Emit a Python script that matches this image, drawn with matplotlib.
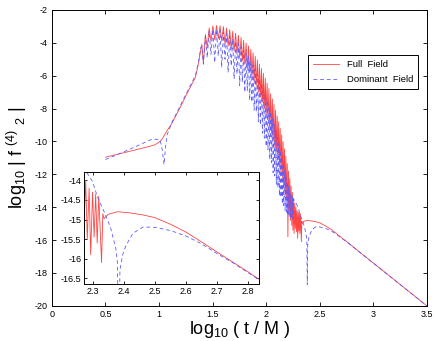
import numpy as np
import matplotlib
matplotlib.use('Agg')
import matplotlib.pyplot as plt

plt.rcParams['font.family'] = ['Liberation Sans', 'DejaVu Sans']
plt.rcParams['mathtext.fontset'] = 'custom'
plt.rcParams['mathtext.rm'] = 'Liberation Sans'
plt.rcParams['mathtext.it'] = 'Liberation Sans'
plt.rcParams['axes.unicode_minus'] = False

# ---- data (log10 t/M , log10 |f|) ----
# early (pre-ringing) part
red_early_x = [0.5, 0.6, 0.7, 0.8, 0.9, 0.96, 1.0, 1.03, 1.07, 1.12, 1.2, 1.26, 1.3, 1.34, 1.37, 1.39]
red_early_y = [-10.96, -10.8, -10.64, -10.48, -10.32, -10.21, -10.05, -9.85, -9.4, -8.9, -7.9, -7.1, -6.6, -6.1, -5.2, -4.4]

blue_early_x = [0.5, 0.6, 0.7, 0.8, 0.9, 0.94, 1.01, 1.03, 1.047, 1.06, 1.075, 1.12, 1.2, 1.26, 1.3, 1.34, 1.37, 1.39]
blue_early_y = [-11.1, -10.83, -10.55, -10.26, -9.97, -9.85, -9.9, -10.5, -11.4, -10.4, -9.6, -8.85, -7.8, -7.0, -6.5, -6.0, -5.1, -4.3]

# ringing: positions of local maxima and minima
osc_x = [1.400, 1.433, 1.468, 1.503, 1.537, 1.570, 1.601, 1.631, 1.660, 1.688,
         1.715, 1.741, 1.766, 1.790, 1.813, 1.835, 1.857, 1.878, 1.898, 1.918,
         1.937, 1.956, 1.974, 1.992, 2.009, 2.026, 2.042, 2.058, 2.073, 2.088,
         2.103, 2.117, 2.131, 2.145, 2.158, 2.171, 2.184, 2.197, 2.209, 2.221,
         2.233, 2.245, 2.256, 2.267, 2.278, 2.289, 2.300, 2.310, 2.320]
osc_mid = [1.414, 1.450, 1.485, 1.520, 1.553, 1.585, 1.616, 1.645, 1.674, 1.701,
           1.728, 1.753, 1.778, 1.801, 1.824, 1.846, 1.867, 1.888, 1.908, 1.927,
           1.946, 1.965, 1.983, 2.000, 2.017, 2.034, 2.050, 2.065, 2.080, 2.095,
           2.110, 2.124, 2.138, 2.151, 2.164, 2.177, 2.190, 2.203, 2.215, 2.227,
           2.239, 2.250, 2.261, 2.272, 2.283, 2.294, 2.305, 2.315, 2.329]

red_peak = [-4.10, -3.50, -3.10, -2.97, -2.95, -2.97, -3.02, -3.10, -3.20, -3.30,
            -3.42, -3.55, -3.68, -3.85, -4.02, -4.20, -4.40, -4.60, -4.82, -5.04,
            -5.30, -5.57, -5.85, -6.15, -6.45, -6.78, -7.10, -7.42, -7.75, -8.10,
            -8.45, -8.80, -9.20, -9.60, -10.0, -10.45, -10.9, -11.35, -11.8, -12.25,
            -12.7, -13.1, -13.45, -13.75, -14.0, -14.2, -14.3, -14.35, -14.4]
red_trough = [-5.24, -4.3, -3.9, -3.8, -3.75, -3.9, -4.1, -4.2, -4.4, -4.5,
              -4.7, -4.9, -5.1, -5.3, -5.6, -5.8, -6.1, -6.4, -6.6, -7.0,
              -7.3, -7.6, -8.0, -8.4, -8.7, -9.2, -9.5, -9.9, -10.3, -10.6,
              -11.1, -11.4, -11.9, -12.3, -12.7, -13.2, -13.5, -15.8, -14.3, -14.8,
              -15.1, -15.4, -15.6, -15.3, -15.5, -15.9, -15.45, -15.6, -16.1]

blue_peak = [-4.2, -3.6, -3.3, -3.2, -3.2, -3.25, -3.35, -3.45, -3.6, -3.75,
             -3.9, -4.05, -4.25, -4.45, -4.65, -4.85, -5.1, -5.35, -5.6, -5.9,
             -6.2, -6.5, -6.8, -7.15, -7.5, -7.85, -8.2, -8.6, -8.95, -9.35,
             -9.75, -10.15, -10.55, -10.95, -11.35, -11.75, -12.1, -12.45, -12.75, -13.0,
             -13.2, -13.35, -13.5]
blue_trough = [-5.3, -4.9, -4.7, -5.2, -4.8, -5.5, -5.0, -5.8, -5.4, -6.2,
               -5.9, -6.6, -6.4, -7.0, -6.9, -7.5, -7.6, -8.1, -8.2, -8.8,
               -9.0, -9.5, -9.8, -10.3, -10.5, -11.1, -11.3, -11.9, -12.1, -12.6,
               -12.8, -13.3, -13.4, -13.8, -13.9, -14.2, -14.3, -14.5, -14.6, -14.6,
               -14.7, -14.7]

# late-time tail
red_tail_x = [2.333, 2.337, 2.35, 2.38, 2.42, 2.46, 2.5, 2.55, 2.6, 2.65, 2.7, 2.8, 2.9, 3.0, 3.2, 3.5]
red_tail_y = [-14.85, -14.98, -14.87, -14.8, -14.83, -14.88, -14.95, -15.12, -15.32, -15.57, -15.83, -16.34, -16.87, -17.39, -18.43, -20.0]

blue_tail_x = [2.27, 2.28, 2.30, 2.316, 2.343, 2.359, 2.375, 2.38, 2.384, 2.388, 2.396, 2.407, 2.43, 2.463,
               2.5, 2.55, 2.6, 2.65, 2.7, 2.75, 2.8, 2.9, 3.0, 3.2, 3.5]
blue_tail_y = [-13.65, -13.78, -14.03, -14.43, -14.9, -15.24, -15.75, -16.1, -18.7, -16.3, -15.92, -15.67, -15.35, -15.19,
               -15.2, -15.28, -15.42, -15.62, -15.87, -16.1, -16.36, -16.88, -17.4, -18.44, -20.0]

# assemble full curves
red_x, red_y = list(red_early_x), list(red_early_y)
for i in range(len(red_trough)):
    red_x += [osc_x[i], osc_mid[i]]
    red_y += [red_peak[i], red_trough[i]]
red_x += red_tail_x
red_y += red_tail_y

blue_x, blue_y = list(blue_early_x), list(blue_early_y)
for i in range(len(blue_trough)):
    blue_x += [osc_x[i], osc_mid[i]]
    blue_y += [blue_peak[i], blue_trough[i]]
blue_x.append(osc_x[len(blue_trough)])
blue_y.append(blue_peak[len(blue_trough)])
blue_x += blue_tail_x
blue_y += blue_tail_y

red_c = '#ff4444'
blue_c = '#5c5cff'

fig = plt.figure(figsize=(4.36, 3.41), dpi=100)
ax = fig.add_axes([0.119, 0.103, 0.860, 0.868])

ax.plot(red_x, red_y, color=red_c, lw=0.6, label='Full  Field')
ax.plot(blue_x, blue_y, color=blue_c, lw=0.6, dashes=(4.5, 3.5), label='Dominant  Field')

ax.set_xlim(0, 3.5)
ax.set_ylim(-20, -2)
ax.set_xticks([0, 0.5, 1, 1.5, 2, 2.5, 3, 3.5])
ax.set_xticklabels(['0', '0.5', '1', '1.5', '2', '2.5', '3', '3.5'])
ax.set_yticks(np.arange(-20, -1, 2))
ax.tick_params(direction='in', length=3, width=0.6, labelsize=6.5, top=True, right=True, pad=3)
for s in ax.spines.values():
    s.set_linewidth(0.7)
ax.set_xlabel(r'log$_{10}$ ( t / M )', fontsize=13, labelpad=0)
ax.set_ylabel(r'log$_{10}$ | f $^{(4)}$ $_{2}$ |', fontsize=13, labelpad=4)

leg = ax.legend(loc='upper left', bbox_to_anchor=(0.67, 0.862), fontsize=6.8, fancybox=False,
                framealpha=1, edgecolor='black', handlelength=2.8, borderpad=0.5, labelspacing=0.6)
leg.get_frame().set_linewidth(0.7)

# inset zoom on the late-time tail
axi = fig.add_axes([0.193, 0.167, 0.401, 0.328])
axi.plot(red_x, red_y, color=red_c, lw=0.6)
axi.plot(blue_x, blue_y, color=blue_c, lw=0.6, dashes=(4.5, 3.5))
axi.set_xlim(2.273, 2.835)
axi.set_ylim(-16.65, -13.79)
axi.set_xticks([2.3, 2.4, 2.5, 2.6, 2.7, 2.8])
axi.set_yticks([-16.5, -16, -15.5, -15, -14.5, -14])
axi.set_yticklabels(['-16.5', '-16', '-15.5', '-15', '-14.5', '-14'])
axi.tick_params(direction='in', length=2.5, width=0.6, labelsize=6.5, top=True, right=True, pad=2)
for s in axi.spines.values():
    s.set_linewidth(0.7)

fig.savefig('out.png', dpi=100)
